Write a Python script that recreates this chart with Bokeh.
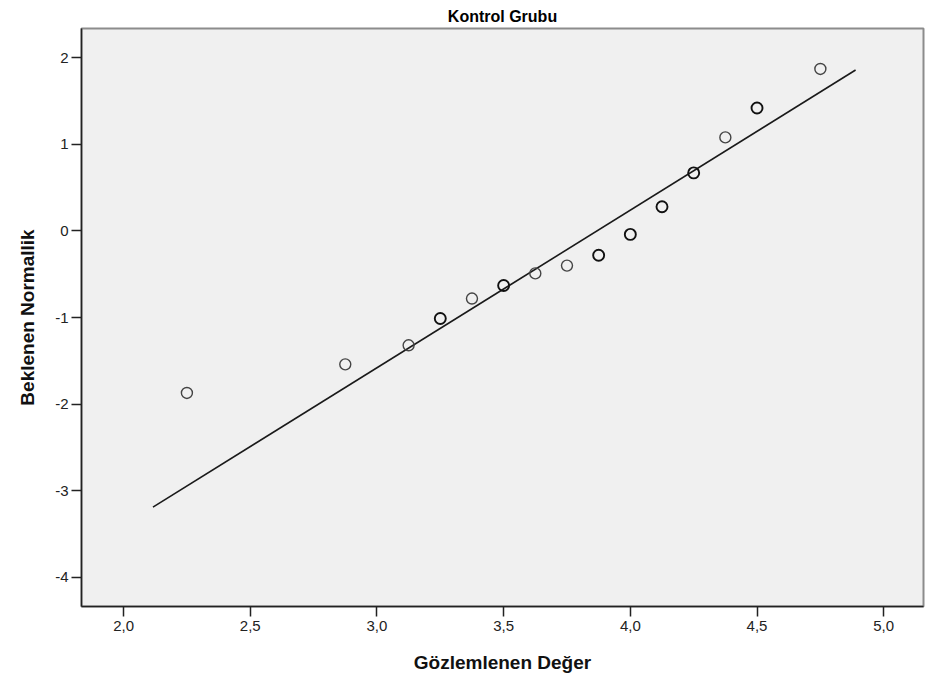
from bokeh.plotting import figure
from bokeh.models import FixedTicker, Range1d, Title
from bokeh.embed import file_html
from bokeh.resources import INLINE

# Normal Q-Q plot, control group
observed = [2.25, 2.875, 3.125, 3.25, 3.375, 3.5, 3.625, 3.75, 3.875,
            4.0, 4.125, 4.25, 4.375, 4.5, 4.75]
expected = [-1.87, -1.54, -1.32, -1.01, -0.78, -0.63, -0.49, -0.40, -0.28,
            -0.04, 0.28, 0.67, 1.08, 1.42, 1.87]
# number of cases sharing each observed value
ties = [1, 1, 1, 2, 1, 2, 1, 1, 2, 2, 2, 2, 1, 2, 1]

# reference line of the fitted normal distribution
dist_mean = 3.868
dist_sd = 0.5495
line_x = [2.116, 4.889]

x_ticks = [2.0, 2.5, 3.0, 3.5, 4.0, 4.5, 5.0]
x_tick_labels = ["2,0", "2,5", "3,0", "3,5", "4,0", "4,5", "5,0"]
y_ticks = [2, 1, 0, -1, -2, -3, -4]
y_tick_labels = ["2", "1", "0", "-1", "-2", "-3", "-4"]

NARROW = "Liberation Sans Narrow, Liberation Sans, sans-serif"

p = figure(width=925, height=680, output_backend="svg", toolbar_location=None,
           x_range=Range1d(1.834, 5.157), y_range=Range1d(-4.335, 2.337),
           min_border_left=81, min_border_right=2, min_border_top=28,
           min_border_bottom=74)

p.background_fill_color = "#f0f0f0"
p.border_fill_color = "white"
p.outline_line_color = "#8c8c8c"
p.outline_line_width = 2
p.grid.visible = False

p.add_layout(Title(text="Kontrol Grubu", align="center",
                   text_font=NARROW, text_font_size="16px",
                   text_font_style="bold", text_color="#000000",
                   standoff=8), "above")

line_y = [(v - dist_mean) / dist_sd for v in line_x]
p.line(line_x, line_y, line_color="#1a1a1a", line_width=1.6)

single_x = [x for x, t in zip(observed, ties) if t == 1]
single_y = [y for y, t in zip(expected, ties) if t == 1]
multi_x = [x for x, t in zip(observed, ties) if t > 1]
multi_y = [y for y, t in zip(expected, ties) if t > 1]
p.scatter(single_x, single_y, marker="circle", size=11, fill_alpha=0,
          line_color="#444444", line_width=1.4)
p.scatter(multi_x, multi_y, marker="circle", size=11, fill_alpha=0,
          line_color="#111111", line_width=1.9)

for ax in (p.xaxis[0], p.yaxis[0]):
    ax.axis_line_color = "#222222"
    ax.axis_line_width = 1.5
    ax.major_tick_line_color = "#222222"
    ax.major_tick_line_width = 1.5
    ax.major_tick_out = 10
    ax.major_tick_in = 0
    ax.minor_tick_line_color = None
    ax.major_label_text_font = NARROW
    ax.major_label_text_font_size = "15px"
    ax.major_label_text_color = "#222222"
    ax.axis_label_text_font = "Liberation Sans, Arial, sans-serif"
    ax.axis_label_text_font_size = "19px"
    ax.axis_label_text_font_style = "bold"
    ax.axis_label_text_color = "#111111"

p.xaxis.ticker = FixedTicker(ticks=x_ticks)
p.xaxis.major_label_overrides = dict(zip(x_ticks, x_tick_labels))
p.xaxis.axis_label = "Gözlemlenen Değer"
p.xaxis.major_label_standoff = 4
p.xaxis.axis_label_standoff = 18

p.yaxis.ticker = FixedTicker(ticks=y_ticks)
p.yaxis.major_label_overrides = dict(zip(y_ticks, y_tick_labels))
p.yaxis.axis_label = "Beklenen Normallik"
p.yaxis.major_label_standoff = 3
p.yaxis.axis_label_standoff = 14

open("out.html", "w").write(file_html(p, INLINE))
